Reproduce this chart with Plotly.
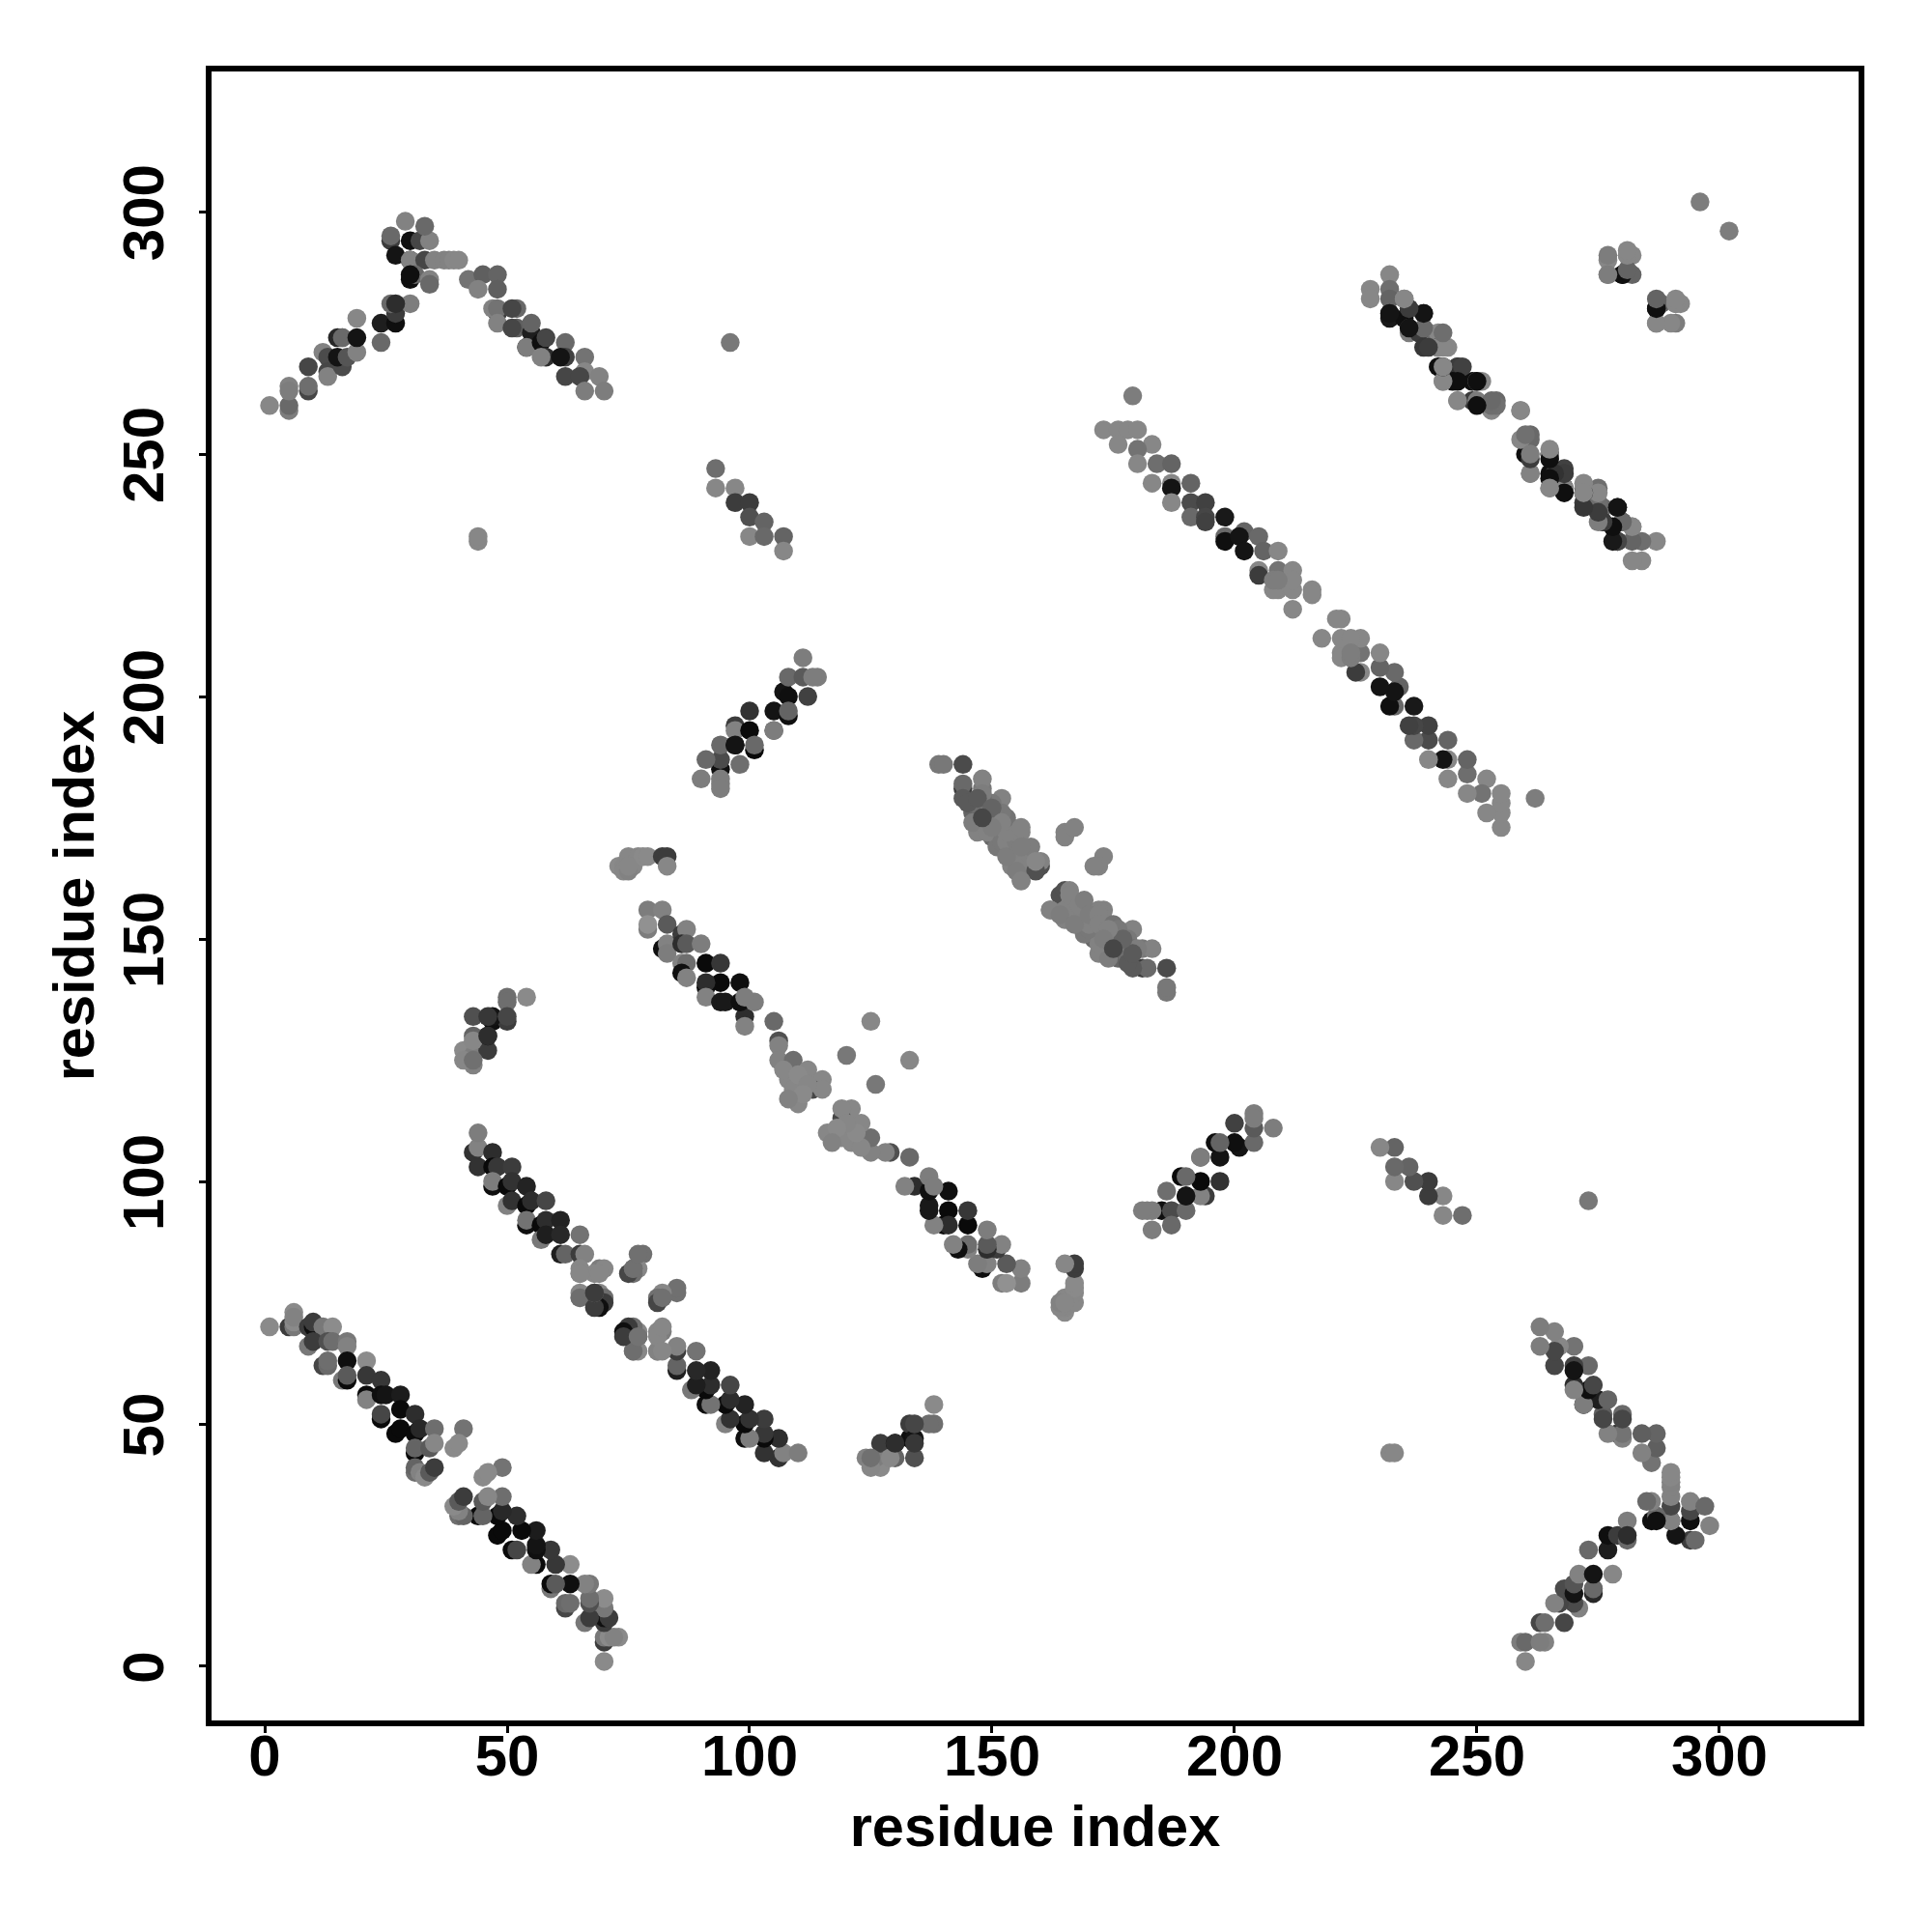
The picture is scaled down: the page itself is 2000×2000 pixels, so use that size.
import plotly.graph_objects as go

# Contact pairs (i < j); each contact appears at (i,j) and (j,i)
band_a_i = [1,5,6,6,6,6,9,10,10,12,14,9,10,13,14,17,17,12,13,13,17,16,17,17,21,21,24,21,21,24,25,28,24,24,28,31,27,28,31,32,35,41,31,31,34,35,39,40,31,31,32,33,34,35]
band_a_j = [70,70,70,71,73,72,70,70,71,70,70,66,67,67,67,67,66,62,62,63,63,59,59,60,63,60,59,56,55,56,56,56,51,52,53,52,48,49,48,49,49,49,44,45,45,46,45,46,40,41,40,39,40,41]
band_a_g = [138,60,120,138,138,130,60,15,60,120,140,120,60,80,110,120,130,70,105,110,15,120,10,90,140,55,55,10,130,15,20,28,10,70,10,45,10,10,10,40,110,115,10,100,90,135,138,138,110,100,130,138,90,60]

band_b_i = [43,44,44,47,44,47,48,51,47,47,50,51,54,50,51,54,55,58,54,54,57,58,61,57,58,61,65,61,62,65,66,65,69,68,65,65,65,69,70,65,69,70,70,69,68,68,78,77,76,75,76,77,81,81,82,85]
band_b_j = [106,107,110,106,103,103,103,103,99,100,99,100,99,95,96,95,96,96,91,92,91,92,92,88,89,89,89,85,85,85,85,81,82,81,82,77,76,77,82,76,76,76,75,74,74,77,85,82,81,81,82,68,69,65,76,77]
band_b_g = [50,130,125,45,50,10,55,60,15,125,10,50,35,130,50,10,45,70,15,115,10,45,35,120,30,40,115,30,100,60,130,130,125,135,135,135,135,135,135,110,135,110,60,15,60,115,112,135,112,70,112,60,135,135,112,112]

band_c_i = [41,43,43,46,46,43,43,47,50,50,50,54,41,43,46,47,50,43,46]
band_c_j = [127,126,124,127,130,130,129,133,133,138,137,138,125,125,130,134,134,134,134]
band_c_g = [138,125,130,60,15,100,135,15,60,110,110,138,135,112,45,20,70,80,55]

band_d_i = [73,74,75,76,74,75,77,78,79,75,82,83,83,79,82,79,79,82,83,83,83,86,87,86,87,86,87,86,90,87,91,91,94,94,91,91,98,94,95,99,98,101,99,99,105,106,106,106,109,112,115,108,109,110,113,115,120,125,107,110,112,111,108]
band_d_j = [165,165,167,165,164,164,167,167,167,165,167,167,165,156,156,152,153,148,153,149,147,151,152,149,149,145,145,143,149,142,140,145,145,141,141,138,141,137,137,134,137,137,138,132,133,129,128,125,125,123,121,121,119,116,119,119,126,133,123,122,120,118,117]
band_d_g = [138,135,135,135,135,130,135,138,138,135,60,60,135,125,130,125,145,15,90,130,125,60,130,45,90,130,110,15,125,130,10,10,55,10,45,130,15,25,25,45,15,125,125,130,105,80,130,130,110,135,135,135,135,135,70,135,120,135,135,138,135,138,130]

band_e_i = [90,94,94,91,94,94,94,94,97,97,97,98,97,100,100,101,101,105,105,105,107,108,108,108,108,112,111,111,114,113]
band_e_j = [183,185,187,187,190,182,183,181,190,194,193,186,190,197,193,189,190,197,193,193,201,200,196,197,204,200,204,208,204,204]
band_e_g = [125,15,75,105,105,125,125,125,15,60,130,110,20,50,10,10,105,20,90,125,20,15,15,100,105,65,90,125,125,125]

band_f_i = [139,140,144,144,144,148,148,144,148,148,152,152,147,150,150,154,156,151,155,154,154,160,160,156,165,165,164,166,162,169,173,173,
            146,146,145,146,149,150,149,152,153,154,157,156,155,153,159,157,158,155,155,153,153,152,150,150,148,148,147,150,152,150,148]
band_f_j = [186,186,186,181,182,181,183,179,176,177,179,175,172,172,171,173,172,169,169,166,165,165,166,162,172,171,159,159,156,156,156,167,
            176,178,178,174,174,175,172,170,170,168,166,165,164,167,166,168,169,170,172,172,175,176,176,178,179,180,179,177,174,173,175]
band_f_g = [120,120,75,60,105,120,130,90,75,125,130,105,130,60,105,130,130,120,125,130,130,80,130,130,130,130,80,135,130,125,130,130,
            100,110,90,125,120,125,130,120,130,130,130,130,125,125,130,130,125,125,130,130,115,120,125,120,110,125,90,100,130,125,70]

band_g_i = [93,93,97,97,100,100,103,100,103,107,107,96,44,44]
band_g_j = [247,243,243,240,240,237,236,233,233,233,230,273,232,233]
band_g_g = [110,135,135,60,60,80,100,135,105,100,135,120,135,135]

band_h_i = [173,176,178,180,183,176,180,180,184,187,183,187,187,191,187,191,194,191,194,194,198,198,198,202,201,205,202,206,209,205,205,209,212,209,208,212,216,216,212,179,208,212,209]
band_h_j = [255,255,255,255,252,252,251,248,248,248,244,244,243,244,240,240,240,237,237,236,237,233,232,234,233,233,230,230,230,226,225,226,226,222,222,222,222,221,218,262,224,224,224]
band_h_g = [135,135,135,135,135,135,115,135,110,100,135,135,20,100,135,75,65,105,70,65,25,105,15,100,20,105,20,100,135,135,60,115,135,135,135,135,135,135,135,125,125,135,125]

band_i_i = [228,228,232,232,232,232,232,235,236,235,239,236,236,240,238,242,239,242,244,242,242,246,246,246,245,243,250,249,246,249,251,254,253,254,259,260,261,260,261,265,265,268,265,265,268,268,272,275,272,276,279,276,280,282,279,250]
band_i_j = [284,282,287,284,282,279,278,282,280,278,279,276,275,275,275,275,272,272,272,272,268,268,268,266,265,265,265,265,261,261,265,261,259,260,259,253,253,250,246,250,250,247,246,243,243,243,243,243,240,239,239,236,236,235,232,261]
band_i_g = [135,135,135,110,100,70,25,135,105,15,20,60,125,110,60,135,55,20,135,135,15,60,60,50,15,135,135,15,130,60,135,105,135,112,135,110,105,15,135,135,15,65,15,135,15,135,135,110,60,105,20,20,60,135,20,125]

band_i2_i = [277,277,281,282,280,282,287,288,287,291,292,291,296]
band_i2_j = [290,287,291,291,287,287,280,281,277,281,281,277,302]
band_i2_g = [135,135,135,135,15,100,15,100,125,135,135,125,125]

band_j_i = [1,5,5,5,5,9,9,9,12,13,13,13,16,16,15,17,15,16,19,19,19,24,24,27,27,26,30,27,26,26,27,30,30,30,33,29,32,34,30,33,35,37,38,31,30,34,34]
band_j_j = [260,259,264,260,263,268,263,264,271,270,267,266,268,274,270,270,274,274,271,274,278,273,277,277,279,281,281,281,294,295,291,294,290,290,290,298,294,294,286,297,290,290,290,287,287,286,285]
band_j_g = [135,125,130,105,125,70,70,110,130,75,70,130,75,105,20,85,40,105,130,20,135,105,30,15,60,105,125,45,60,105,20,15,15,130,70,130,70,130,15,105,130,130,130,105,15,130,105]

band_k_i = [39,40,42,45,48,44,48,48,47,48,52,51,48,52,51,55,55,54,54,57,58,62,58,57,62,61,66,62,66,65,69,66,70]
band_k_j = [290,290,286,287,287,284,284,279,280,280,280,280,277,276,276,275,277,272,272,273,274,273,270,270,270,270,270,266,267,266,266,263,263]
band_k_g = [135,135,115,95,100,130,95,60,130,115,105,70,130,95,70,30,100,20,125,15,70,105,45,130,65,20,115,70,135,70,130,125,125]

x_tick_values = [0, 50, 100, 150, 200, 250, 300]
axis_title = "residue index"

bands = [
    (band_a_i, band_a_j, band_a_g),
    (band_b_i, band_b_j, band_b_g),
    (band_c_i, band_c_j, band_c_g),
    (band_d_i, band_d_j, band_d_g),
    (band_e_i, band_e_j, band_e_g),
    (band_f_i, band_f_j, band_f_g),
    (band_g_i, band_g_j, band_g_g),
    (band_h_i, band_h_j, band_h_g),
    (band_i_i, band_i_j, band_i_g),
    (band_i2_i, band_i2_j, band_i2_g),
    (band_j_i, band_j_j, band_j_g),
    (band_k_i, band_k_j, band_k_g),
]

fig = go.Figure()
for i_vals, j_vals, g_vals in bands:
    n = min(len(i_vals), len(j_vals), len(g_vals))
    i_vals, j_vals, g_vals = i_vals[:n], j_vals[:n], g_vals[:n]
    colors = [f"rgb({g},{g},{g})" for g in g_vals]
    fig.add_trace(go.Scatter(
        x=i_vals + j_vals, y=j_vals + i_vals, mode="markers",
        marker=dict(size=19.5, color=colors + colors, line=dict(width=0)),
        showlegend=False, hoverinfo="skip"))

font = dict(family="Liberation Sans", size=60, color="black", weight="bold")
title_font = dict(family="Liberation Sans", size=59.5, color="black", weight="bold")
common = dict(
    tickmode="array", tickvals=x_tick_values, ticktext=[str(v) for v in x_tick_values],
    showgrid=False, zeroline=False, showline=True, mirror=True,
    linecolor="black", linewidth=6, ticks="outside", ticklen=7, tickwidth=3,
    tickcolor="black", tickfont=font,
)
fig.update_xaxes(range=[-10.96, 328.7], ticklabelstandoff=-28,
                 title=dict(text=axis_title, font=title_font, standoff=21), **common)
fig.update_yaxes(range=[-11.16, 328.9], tickangle=-90, ticklabelstandoff=13, ticklabelshift=10,
                 title=dict(text=axis_title, font=title_font, standoff=0), **common)
fig.update_layout(
    width=2000, height=2000, autosize=False,
    margin=dict(l=219, r=76, t=74, b=219, autoexpand=False),
    paper_bgcolor="white", plot_bgcolor="white",
)
fig.write_html("out.html", config={"displayModeBar": False},
               post_script="document.body.style.margin='0';")
